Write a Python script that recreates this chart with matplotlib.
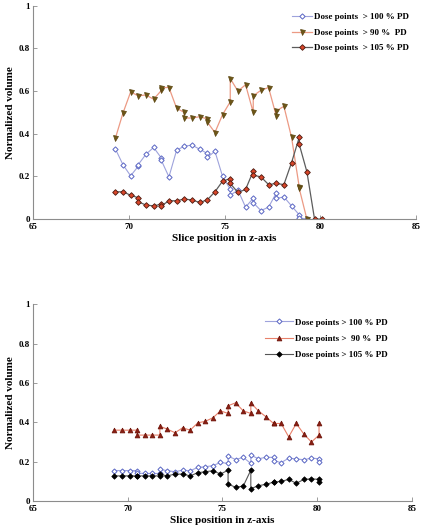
import matplotlib
matplotlib.use("Agg")
import matplotlib.pyplot as plt

# ---------------- data: top panel ----------------
top_x_100 = [69.3, 69.7, 70.1, 70.5, 70.5, 70.9, 71.3, 71.7, 71.7, 72.1, 72.5, 72.9, 73.3, 73.7,
             74.1, 74.1, 74.5, 74.9, 75.3, 75.3, 75.7, 76.1, 76.5, 76.5, 76.9, 77.3, 77.7, 77.7,
             78.1, 78.5, 78.9, 78.9, 79.3]
top_y_100 = [0.33, 0.255, 0.203, 0.248, 0.256, 0.304, 0.336, 0.287, 0.276, 0.198, 0.323, 0.342, 0.347, 0.328,
             0.308, 0.289, 0.318, 0.20, 0.14, 0.112, 0.136, 0.056, 0.098, 0.077, 0.04, 0.056, 0.122, 0.097,
             0.104, 0.062, 0.02, 0.006, 0.0]

top_x_90 = [69.3, 69.7, 70.1, 70.5, 70.9, 71.3, 71.7, 71.7, 72.1, 72.5, 72.9, 72.9, 73.3, 73.7,
            74.1, 74.1, 74.5, 74.9, 75.3, 75.3, 75.7, 76.1, 76.5, 76.5, 76.9, 77.3, 77.7, 77.7,
            78.1, 78.5, 78.9, 78.9, 79.3]
top_y_90 = [0.378, 0.497, 0.596, 0.578, 0.582, 0.562, 0.603, 0.617, 0.617, 0.52, 0.50, 0.474, 0.474, 0.48,
            0.47, 0.455, 0.406, 0.49, 0.55, 0.659, 0.60, 0.63, 0.50, 0.578, 0.604, 0.617, 0.484, 0.507,
            0.529, 0.383, 0.151, 0.144, 0.0]

top_x_105 = [69.3, 69.7, 70.1, 70.5, 70.5, 70.9, 71.3, 71.7, 71.7, 72.1, 72.5, 72.9, 73.3, 73.7,
             74.1, 74.5, 74.9, 75.3, 75.3, 75.7, 76.1, 76.5, 76.5, 76.9, 77.3, 77.7, 78.1, 78.5,
             78.9, 78.9, 79.3, 79.7, 80.1]
top_y_105 = [0.128, 0.128, 0.112, 0.10, 0.081, 0.066, 0.062, 0.07, 0.062, 0.086, 0.086, 0.094, 0.09, 0.078,
             0.09, 0.128, 0.178, 0.19, 0.167, 0.125, 0.139, 0.225, 0.206, 0.198, 0.162, 0.167, 0.162, 0.265,
             0.383, 0.351, 0.222, 0.0, 0.0]

# ---------------- data: bottom panel ----------------
bot_x = [69.3, 69.7, 70.1, 70.5, 70.5, 70.9, 71.3, 71.7, 71.7, 72.1, 72.5, 72.9, 73.3, 73.7, 74.1,
         74.5, 74.9, 75.3, 75.3, 75.7, 76.1, 76.5, 76.5, 76.9, 77.3, 77.7, 77.7, 78.1, 78.5, 78.9,
         79.3, 79.7, 80.1, 80.1]
bot_y_100 = [0.155, 0.155, 0.155, 0.155, 0.142, 0.14, 0.14, 0.14, 0.161, 0.154, 0.149, 0.157, 0.154, 0.171, 0.174,
             0.18, 0.196, 0.191, 0.228, 0.211, 0.222, 0.191, 0.233, 0.215, 0.222, 0.222, 0.206, 0.195, 0.218, 0.214,
             0.21, 0.218, 0.215, 0.20]
bot_y_90 = [0.36, 0.36, 0.36, 0.36, 0.335, 0.335, 0.335, 0.335, 0.38, 0.365, 0.347, 0.372, 0.36, 0.397, 0.405,
            0.423, 0.458, 0.445, 0.484, 0.499, 0.458, 0.445, 0.499, 0.458, 0.428, 0.394, 0.394, 0.394, 0.326, 0.394,
            0.34, 0.30, 0.335, 0.394]
bot_y_105 = [0.128, 0.128, 0.128, 0.128, 0.128, 0.128, 0.128, 0.128, 0.135, 0.128, 0.137, 0.137, 0.128, 0.144, 0.149,
             0.154, 0.137, 0.157, 0.086, 0.07, 0.076, 0.157, 0.063, 0.078, 0.085, 0.096, 0.096, 0.10, 0.11, 0.09,
             0.11, 0.113, 0.11, 0.095]

labels = ["Dose points  > 100 % PD", "Dose points  > 90 %  PD", "Dose points  > 105 % PD"]
labels_bot = ["Dose points > 100 % PD", "Dose points >  90 %  PD", "Dose points > 105 % PD"]
xticks = [65, 70, 75, 80, 85]
yticks = [0, 0.2, 0.4, 0.6, 0.8, 1]
ytick_labels = ["0", "0.2", "0.4", "0.6", "0.8", "1"]

plt.rcParams['font.family'] = ['Liberation Serif', 'DejaVu Serif']
plt.rcParams['font.weight'] = 'bold'

fig = plt.figure(figsize=(4.22, 5.28), dpi=100)
ax1 = fig.add_axes([0.078, 0.585, 0.908, 0.404])
ax2 = fig.add_axes([0.078, 0.051, 0.898, 0.373])


def style(ax):
    ax.set_xlim(65, 85)
    ax.set_ylim(0, 1)
    ax.set_xticks(xticks)
    ax.set_xticklabels([str(t) for t in xticks], fontsize=6.5, fontweight='bold')
    ax.set_yticks(yticks)
    ax.set_yticklabels(ytick_labels, fontsize=6.5, fontweight='bold')
    for s in ['top', 'right']:
        ax.spines[s].set_visible(False)
    for s in ['left', 'bottom']:
        ax.spines[s].set_color('#8c8c8c')
        ax.spines[s].set_linewidth(0.8)
    ax.tick_params(direction='in', length=3, width=0.6, color='#8c8c8c', pad=2)
    ax.tick_params(axis='x', pad=3)
    ax.set_xlabel("Slice position in z-axis", fontsize=8, fontweight='bold', labelpad=2)
    ax.set_ylabel("Normalized volume", fontsize=8, fontweight='bold', labelpad=3)


# top panel
ax1.plot(top_x_100, top_y_100, color='#9ea3dc', lw=0.8, marker='D', ms=2.7,
         mfc='white', mec='#5a66c4', mew=0.7, label=labels[0])
ax1.plot(top_x_90, top_y_90, color='#ec9a84', lw=0.9, marker='v', ms=3.6,
         mfc='#6e5718', mec='#5a4510', mew=0.5, label=labels[1])
ax1.plot(top_x_105, top_y_105, color='#5c5c5c', lw=0.9, marker='D', ms=2.9,
         mfc='#d8462a', mec='#4a1a10', mew=0.6, label=labels[2])
style(ax1)
ax1.legend(loc='upper right', bbox_to_anchor=(1.0, 1.0), frameon=False,
           handlelength=2.2, handletextpad=0.2, labelspacing=0.8, borderpad=0.3,
           prop={'weight': 'bold', 'size': 6.5})

# bottom panel
ax2.plot(bot_x, bot_y_100, color='#9ea3dc', lw=0.8, marker='D', ms=2.6,
         mfc='white', mec='#5a66c4', mew=0.7, label=labels_bot[0])
ax2.plot(bot_x, bot_y_90, color='#e8806a', lw=0.8, marker='^', ms=3.5,
         mfc='#8a1e12', mec='#6a1208', mew=0.5, label=labels_bot[1])
ax2.plot(bot_x, bot_y_105, color='#555555', lw=0.8, marker='D', ms=2.8,
         mfc='black', mec='black', mew=0.5, label=labels_bot[2])
style(ax2)
ax2.legend(loc='upper right', bbox_to_anchor=(0.956, 0.965), frameon=False,
           handlelength=3.0, handletextpad=0.3, labelspacing=0.9, borderpad=0.3,
           prop={'weight': 'bold', 'size': 6.5})

fig.savefig("out.png", dpi=100)
